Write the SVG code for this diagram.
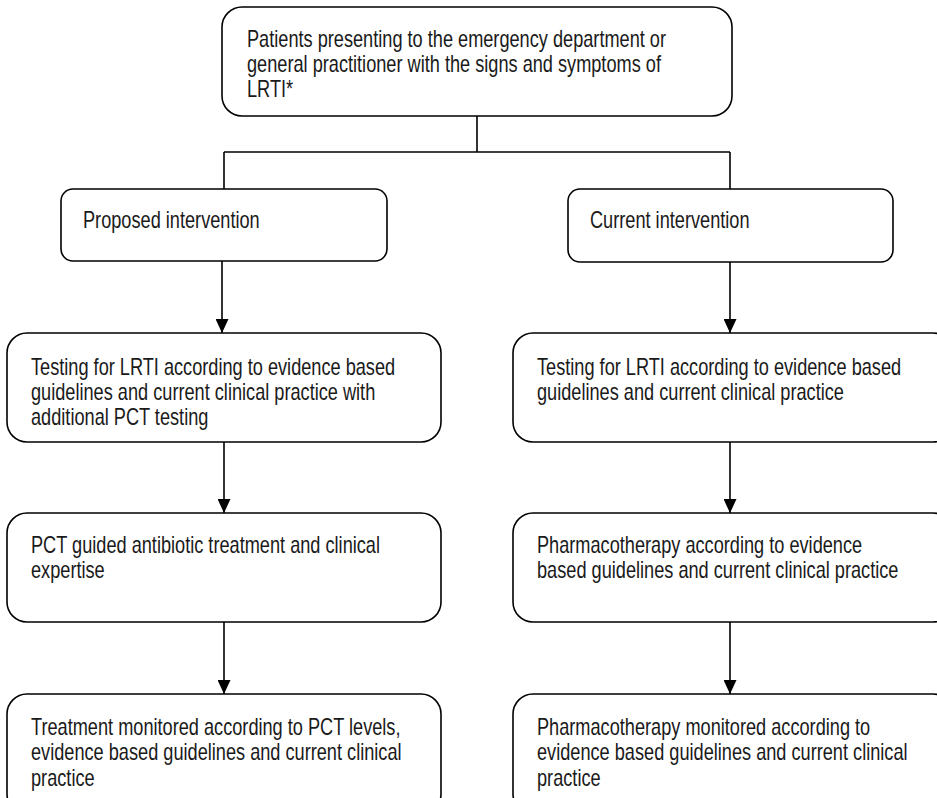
<svg xmlns="http://www.w3.org/2000/svg" width="937" height="798" viewBox="0 0 937 798">
<defs>
<style>
.box{fill:#fff;stroke:#000;stroke-width:1.6}
.t{font-family:"Liberation Sans",Arial,sans-serif;font-size:23px;fill:#1a1a1a}
.c{fill:none;stroke:#000;stroke-width:1.6}
</style>
<marker id="ah" markerWidth="14" markerHeight="13" refX="14" refY="6.5" orient="auto" markerUnits="userSpaceOnUse" viewBox="0 0 14 13">
<path d="M0,0 L14,6.5 L0,13 Z" fill="#000"/>
</marker>
</defs>
<rect width="937" height="798" fill="#fff"/>
<g id="connectors">
<path class="c" d="M477,116 V152 M224,152 H730 M224,152 V189 M730,152 V189"/>
<path class="c" d="M222,261 V333" marker-end="url(#ah)"/>
<path class="c" d="M730,262 V333" marker-end="url(#ah)"/>
<path class="c" d="M224,442 V513" marker-end="url(#ah)"/>
<path class="c" d="M730,442 V513" marker-end="url(#ah)"/>
<path class="c" d="M224,622 V694" marker-end="url(#ah)"/>
<path class="c" d="M730,622 V694" marker-end="url(#ah)"/>
</g>
<g id="n-top">
<rect class="box" x="222" y="7" width="510" height="109" rx="20"/>
<text class="t" transform="translate(247,0) scale(0.79,1)"><tspan x="0" y="47">Patients presenting to the emergency department or</tspan><tspan x="0" y="72">general practitioner with the signs and symptoms of</tspan><tspan x="0" y="97">LRTI*</tspan></text>
</g>
<g id="n-proposed">
<rect class="box" x="61" y="189" width="326" height="72" rx="12"/>
<text class="t" transform="translate(83,0) scale(0.79,1)" x="0" y="228">Proposed intervention</text>
</g>
<g id="n-current">
<rect class="box" x="568" y="189" width="325" height="73" rx="12"/>
<text class="t" transform="translate(590,0) scale(0.79,1)" x="0" y="228">Current intervention</text>
</g>
<g id="n-test-l">
<rect class="box" x="7" y="333" width="434" height="109" rx="20"/>
<text class="t" transform="translate(31,0) scale(0.79,1)"><tspan x="0" y="375">Testing for LRTI according to evidence based</tspan><tspan x="0" y="400">guidelines and current clinical practice with</tspan><tspan x="0" y="425">additional PCT testing</tspan></text>
</g>
<g id="n-test-r">
<rect class="box" x="513" y="333" width="440" height="109" rx="20"/>
<text class="t" transform="translate(537,0) scale(0.79,1)"><tspan x="0" y="375">Testing for LRTI according to evidence based</tspan><tspan x="0" y="400">guidelines and current clinical practice</tspan></text>
</g>
<g id="n-pct">
<rect class="box" x="7" y="513" width="434" height="109" rx="20"/>
<text class="t" transform="translate(31,0) scale(0.79,1)"><tspan x="0" y="553">PCT guided antibiotic treatment and clinical</tspan><tspan x="0" y="578">expertise</tspan></text>
</g>
<g id="n-pharm">
<rect class="box" x="513" y="513" width="440" height="109" rx="20"/>
<text class="t" transform="translate(537,0) scale(0.79,1)"><tspan x="0" y="553">Pharmacotherapy according to evidence</tspan><tspan x="0" y="578">based guidelines and current clinical practice</tspan></text>
</g>
<g id="n-mon-l">
<rect class="box" x="7" y="694" width="434" height="120" rx="20"/>
<text class="t" transform="translate(31,0) scale(0.79,1)"><tspan x="0" y="735">Treatment monitored according to PCT levels,</tspan><tspan x="0" y="760">evidence based guidelines and current clinical</tspan><tspan x="0" y="786">practice</tspan></text>
</g>
<g id="n-mon-r">
<rect class="box" x="513" y="694" width="440" height="120" rx="20"/>
<text class="t" transform="translate(537,0) scale(0.79,1)"><tspan x="0" y="735">Pharmacotherapy monitored according to</tspan><tspan x="0" y="760">evidence based guidelines and current clinical</tspan><tspan x="0" y="786">practice</tspan></text>
</g>
</svg>
